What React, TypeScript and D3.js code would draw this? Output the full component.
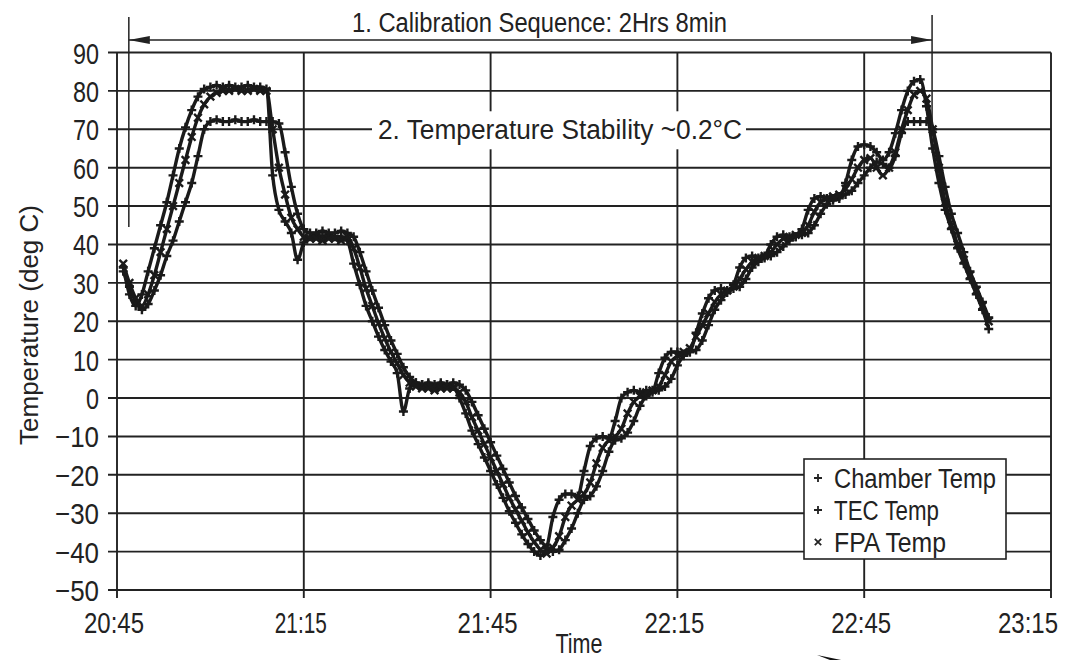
import { useEffect, useRef } from "react";
import * as d3 from "d3";

// readings once a minute, first one at 20:46 (minutes after 20:45)
const firstSampleMinute = 1;

const chamberTemp = [
    34, 27, 24, 27, 33, 39, 45, 51, 58, 65,
    70.5, 75, 78.5, 80.5, 81, 81.5, 81, 81.5, 81, 81,
    81.5, 81, 81, 80.5, 58, 49, 46, 43, 36, 40.5,
    42, 42.5, 42, 42.5, 42, 42, 41, 35, 29.5, 24,
    20, 16, 12.5, 9.5, 6.5, -3.5, 2.5, 4, 3.5, 4,
    3.5, 4, 3.5, 3, 0, -4, -8.5, -12, -15.5, -19,
    -22.5, -26, -29.5, -32.5, -35.5, -38, -40, -41, -39, -31,
    -26.5, -25, -25, -25.5, -19, -12.5, -10.5, -10, -10.5, -6,
    0, 1.5, 2, 1.5, 2, 2, 6.5, 10.5, 12, 12,
    11.5, 12, 17, 22, 26, 28, 28.5, 28, 29.5, 34,
    36.5, 37, 36.5, 37, 40, 42, 42.5, 42, 42, 44,
    49, 52, 52.5, 52, 51.5, 52, 56, 62, 65.5, 66,
    65.5, 64, 62, 64, 69, 75, 80, 82.5, 83, 76,
    65, 56, 49, 44, 39, 35, 31, 27, 23, 18,
];

const tecTemp = [
    33, 29, 25, 23, 24.5, 28, 32, 37, 41, 46,
    51, 56, 63, 70, 72, 72.5, 72, 72, 72.5, 72,
    72, 72.5, 72, 72, 72, 71.5, 64, 55, 48, 44,
    43, 43, 43.5, 43, 43, 43.5, 43, 42, 38, 33,
    28, 23.5, 19, 15, 11.5, 8, 5.5, 4, 3.5, 3.5,
    3, 3.5, 3.5, 4, 3.5, 2, -1, -4.5, -8, -11.5,
    -15, -18.5, -22, -25.5, -28.5, -31.5, -34.5, -37, -39, -40,
    -39.5, -37, -34, -30, -26.5, -25.5, -23, -19, -14, -11,
    -10.5, -9, -6, -2, 0.5, 1.5, 2, 3, 5, 8.5,
    11, 12, 12.5, 15, 19, 23, 25.5, 27.5, 28.5, 29,
    31, 34, 35.5, 36.5, 37, 38, 39.5, 41, 42, 42.5,
    43, 45, 48, 50.5, 52, 52.5, 53, 54, 56, 58,
    60, 61.5, 61, 60, 63, 69, 72, 72, 72, 72,
    70, 63, 55, 48, 43, 38, 33, 29, 25, 21,
];

const fpaTemp = [
    35, 30, 26, 24, 27, 32, 38, 44, 50, 56,
    62, 68, 73, 76.5, 78.5, 79.5, 80, 80, 80.5, 80,
    80, 80.5, 80, 80, 70, 60, 53, 47, 44, 42,
    41.5, 41.5, 41, 41.5, 41.5, 41, 42, 39, 34, 28.5,
    24, 19.5, 15.5, 12, 9, 6, 4, 3, 2.5, 2.5,
    2, 2.5, 2.5, 2.5, 1.5, -1, -5, -8.5, -12, -15.5,
    -19, -22.5, -26, -29, -32, -35, -37.5, -39.5, -40.5, -39,
    -36, -31, -28, -26.5, -25, -22, -17, -13, -11, -10,
    -8, -4, -1, 0.5, 1.5, 2, 3, 6, 9.5, 11,
    12, 13, 16, 19, 22, 25, 27, 28, 29, 31,
    33.5, 35.5, 36.5, 37, 38, 40, 41.5, 42, 42.5, 43,
    45, 48.5, 51, 52, 52.5, 53, 54.5, 57, 60, 62,
    62.5, 60, 58, 60, 64, 70, 75, 79, 80, 78,
    70, 60, 51, 45, 40, 36, 32, 28, 24, 20,
];

const yTicks = [90, 80, 70, 60, 50, 40, 30, 20, 10, 0, -10, -20, -30, -40, -50];
const xTickMinutes = [0, 30, 60, 90, 120, 150];
const xTickLabels = ["20:45", "21:15", "21:45", "22:15", "22:45", "23:15"];
const legendLabels = ["Chamber Temp", "TEC Temp", "FPA Temp"];
const legendMarks = ["plus", "plus", "cross"];

// calibration window, minutes after 20:45
const calibStartMinute = 1.9;
const calibEndMinute = 130.9;
const stabilityLevel = 70;

const PLUS = "M-4.5,0H4.5M0,-4.5V4.5";
const CROSS = "M-3.8,-3.8L3.8,3.8M-3.8,3.8L3.8,-3.8";

export default function App() {
    const svgRef = useRef<SVGSVGElement>(null);

    useEffect(() => {
        if (!svgRef.current) return;
        const width = 1073;
        const height = 660;
        const ink = "#222";
        const font = "'Liberation Sans', Arial, Helvetica, sans-serif";

        const svg = d3.select(svgRef.current);
        svg.selectAll("*").remove();
        svg.attr("width", width).attr("height", height);
        svg.append("rect").attr("width", width).attr("height", height).attr("fill", "#fff");

        const x = d3.scaleLinear().domain([0, 150]).range([117, 1051]);
        const y = d3.scaleLinear().domain([-50, 90]).range([590, 52.5]);

        const label = (
            px: number,
            py: number,
            str: string,
            size: number,
            len: number,
            anchor = "start",
        ) =>
            svg
                .append("text")
                .attr("x", px)
                .attr("y", py)
                .attr("font-family", font)
                .attr("font-size", size)
                .attr("fill", ink)
                .attr("text-anchor", anchor)
                .attr("textLength", len)
                .attr("lengthAdjust", "spacingAndGlyphs")
                .text(str);

        // grid + frame
        const grid = svg.append("g").attr("stroke", ink).attr("stroke-width", 1.9);
        yTicks.forEach((v) => {
            grid.append("line")
                .attr("x1", x(0) - 9)
                .attr("x2", x(150))
                .attr("y1", y(v))
                .attr("y2", y(v));
        });
        xTickMinutes.forEach((m) => {
            grid.append("line")
                .attr("x1", x(m))
                .attr("x2", x(m))
                .attr("y1", y(90))
                .attr("y2", y(-50) + 8);
        });

        // tick labels
        yTicks.forEach((v) => {
            const str = v < 0 ? `\u2212${Math.abs(v)}` : `${v}`;
            const digits = String(Math.abs(v)).length;
            label(99, y(v) + 11, str, 30, digits * 13 + (v < 0 ? 18 : 0), "end");
        });
        xTickMinutes.forEach((m, i) => {
            const w = xTickLabels[i].split("1").length > 2 ? 52 : 60;
            const cx = Math.min(x(m) - 3, 1058 - w / 2);
            label(cx, 633, xTickLabels[i], 29, w, "middle");
        });

        // axis titles
        svg.append("text")
            .attr("transform", "translate(38,325) rotate(-90)")
            .attr("font-family", font)
            .attr("font-size", 25)
            .attr("fill", ink)
            .attr("text-anchor", "middle")
            .attr("textLength", 240)
            .attr("lengthAdjust", "spacingAndGlyphs")
            .text("Temperature (deg C)");
        label(579, 653, "Time", 28, 47, "middle");

        // data
        const series = [
            { values: chamberTemp, mark: PLUS },
            { values: tecTemp, mark: PLUS },
            { values: fpaTemp, mark: CROSS },
        ];
        const line = d3
            .line<number>()
            .x((_, i) => x(firstSampleMinute + i))
            .y((d) => y(d))
            .curve(d3.curveMonotoneX);

        series.forEach((s) => {
            svg.append("path")
                .attr("d", line(s.values))
                .attr("fill", "none")
                .attr("stroke", "#1a1a1a")
                .attr("stroke-width", 3.4);
            svg.append("g")
                .selectAll("path")
                .data(s.values)
                .enter()
                .append("path")
                .attr("transform", (d, i) => `translate(${x(firstSampleMinute + i)},${y(d)})`)
                .attr("d", s.mark)
                .attr("stroke", "#1a1a1a")
                .attr("stroke-width", 2.4)
                .attr("fill", "none");
        });

        // 1. calibration sequence arrow
        const xs = x(calibStartMinute);
        const xe = x(calibEndMinute);
        const ann = svg.append("g").attr("stroke", ink).attr("stroke-width", 1.5);
        ann.append("line").attr("x1", xs).attr("x2", xs).attr("y1", 17).attr("y2", 227);
        ann.append("line").attr("x1", xe).attr("x2", xe).attr("y1", 15).attr("y2", 130);
        ann.append("line").attr("x1", xs).attr("x2", xe).attr("y1", 40).attr("y2", 40);
        svg.append("path")
            .attr("d", `M${xs},40L${xs + 21},36L${xs + 21},44Z M${xe},40L${xe - 21},36L${xe - 21},44Z`)
            .attr("fill", ink);
        label(352, 32, "1. Calibration Sequence: 2Hrs 8min", 27, 375);

        // 2. stability note sitting on the 70 line
        svg.append("rect")
            .attr("x", 372)
            .attr("y", y(stabilityLevel) - 18)
            .attr("width", 374)
            .attr("height", 38)
            .attr("fill", "#fff");
        label(378, y(stabilityLevel) + 10, "2. Temperature Stability ~0.2\u00b0C", 27, 364);

        // legend
        svg.append("rect")
            .attr("x", 804)
            .attr("y", 459)
            .attr("width", 202)
            .attr("height", 100)
            .attr("fill", "#fff")
            .attr("stroke", ink)
            .attr("stroke-width", 1.6);
        const rowY = [478, 510, 542];
        const lens = [162, 105, 112];
        legendLabels.forEach((name, i) => {
            svg.append("path")
                .attr("transform", `translate(818,${rowY[i]})`)
                .attr("d", legendMarks[i] === "plus" ? "M-4,0H4M0,-4V4" : "M-3.2,-3.2L3.2,3.2M-3.2,3.2L3.2,-3.2")
                .attr("stroke", ink)
                .attr("stroke-width", 1.8);
            label(834, rowY[i] + 10, name, 27, lens[i]);
        });

        // scan speck at the bottom
        svg.append("path").attr("d", "M817,655L846,661L846,660L830,660Z").attr("fill", "#111");
    }, []);

    return (
        <svg
            ref={svgRef}
            style={{ position: "absolute", left: 0, top: 0, display: "block" }}
        ></svg>
    );
}
